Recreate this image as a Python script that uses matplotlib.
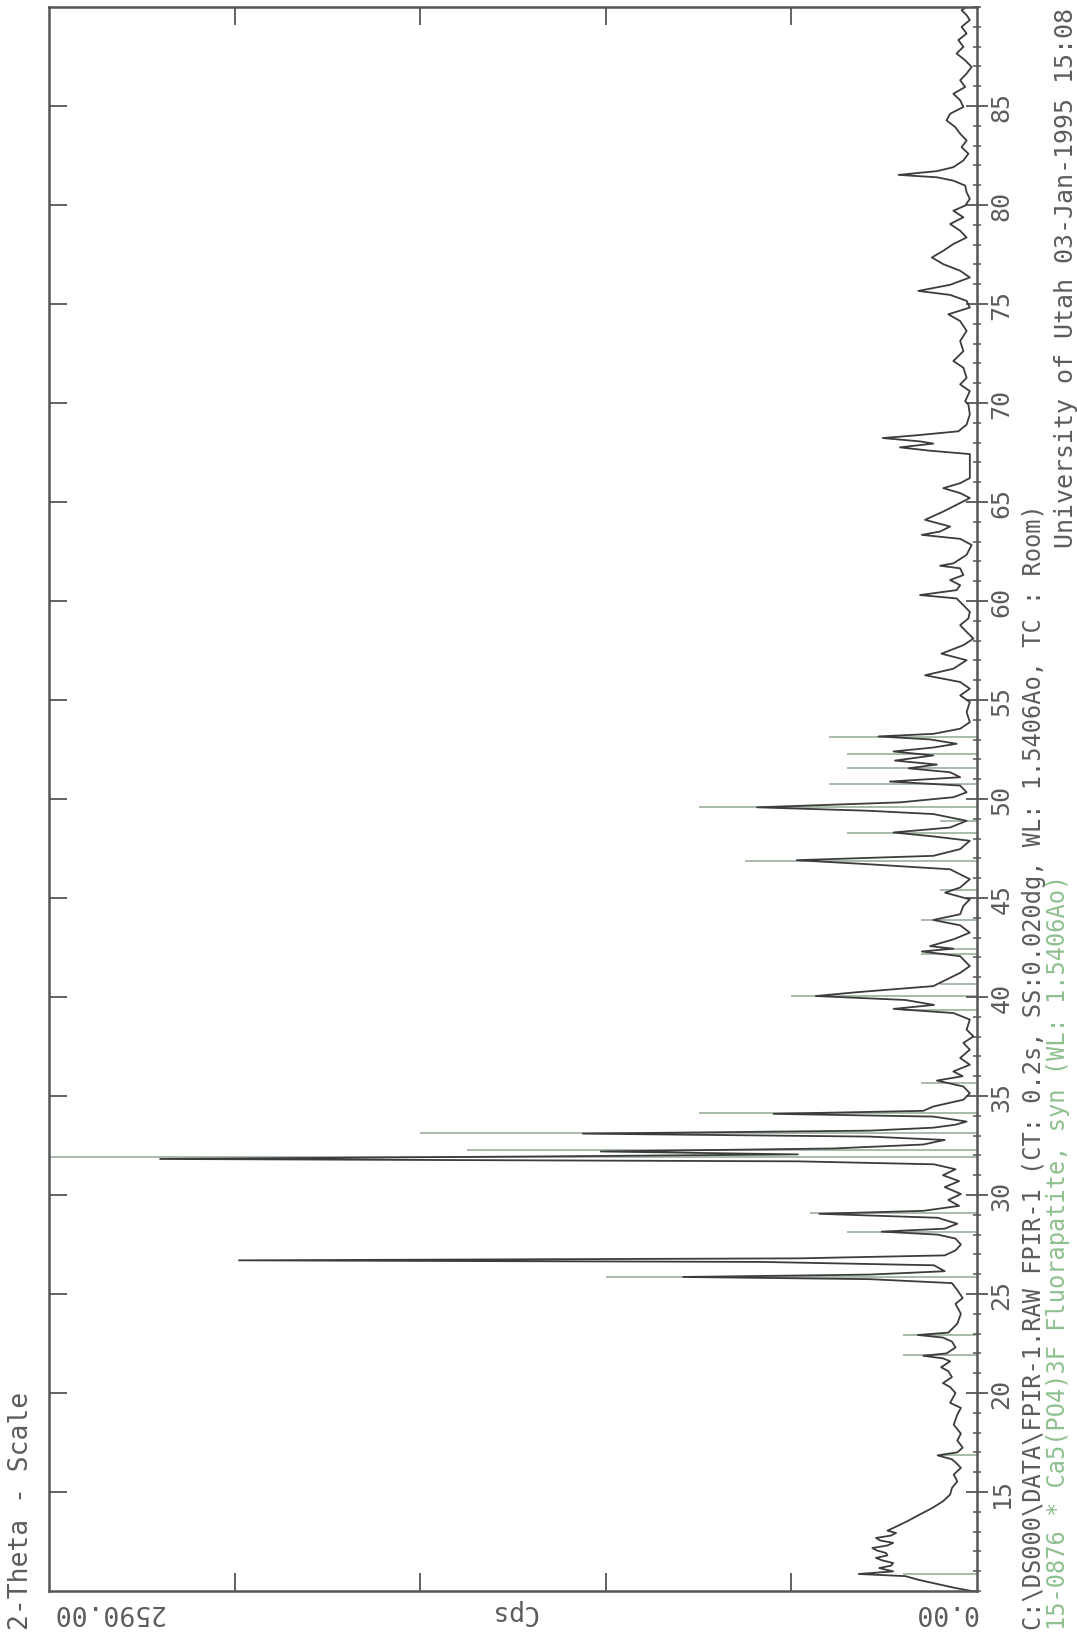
import matplotlib
matplotlib.use("Agg")
import matplotlib.pyplot as plt
from matplotlib.ticker import MultipleLocator

plt.rcParams['font.family'] = ['DejaVu Sans Mono', 'DejaVu Sans']

two_theta = [10.00, 10.15, 10.35, 10.55, 10.75, 10.86, 10.99, 11.16, 11.28, 11.41,
             11.55, 11.67, 11.80, 11.92, 12.05, 12.17, 12.30, 12.43, 12.55, 12.68,
             12.80, 12.93, 13.05, 13.18, 13.52, 13.86, 14.19, 14.53, 14.87, 15.20,
             15.54, 15.88, 16.22, 16.50, 16.65, 16.85, 17.00, 17.24, 17.60, 17.95,
             18.40, 18.90, 19.25, 19.50, 20.00, 20.30, 20.50, 20.80, 21.10, 21.30,
             21.60, 21.75, 21.88, 22.00, 22.30, 22.60, 22.80, 22.93, 23.05, 23.50,
             24.00, 24.50, 24.80, 25.20, 25.55, 25.75, 25.86, 25.98, 26.15, 26.45,
             26.62, 26.70, 26.80, 26.95, 27.20, 27.50, 27.80, 28.00, 28.15, 28.30,
             28.55, 28.85, 29.05, 29.20, 29.45, 29.75, 30.05, 30.40, 30.70, 31.00,
             31.30, 31.55, 31.70, 31.82, 31.95, 32.05, 32.20, 32.35, 32.55, 32.78,
             32.95, 33.10, 33.25, 33.40, 33.55, 33.71, 33.96, 34.10, 34.25, 34.47,
             34.81, 35.14, 35.48, 35.78, 36.00, 36.24, 36.58, 36.92, 37.34, 37.68,
             38.01, 38.35, 38.86, 39.19, 39.40, 39.60, 39.85, 40.05, 40.25, 40.55,
             40.88, 41.22, 41.56, 42.06, 42.30, 42.44, 42.57, 42.91, 43.25, 43.62,
             43.89, 44.18, 44.60, 44.93, 45.27, 45.53, 45.95, 46.45, 46.71, 46.91,
             47.13, 47.47, 47.89, 48.11, 48.31, 48.56, 48.90, 49.24, 49.41, 49.58,
             49.83, 50.09, 50.34, 50.68, 50.88, 51.10, 51.35, 51.55, 51.74, 51.94,
             52.20, 52.40, 52.60, 52.79, 53.01, 53.16, 53.29, 53.55, 53.88, 54.39,
             54.90, 55.23, 55.57, 55.91, 56.25, 56.58, 57.01, 57.34, 57.77, 58.10,
             58.44, 58.78, 59.12, 59.45, 59.79, 60.13, 60.30, 60.55, 60.80, 61.06,
             61.31, 61.65, 61.78, 61.90, 62.33, 62.83, 63.14, 63.34, 63.51, 63.76,
             64.10, 64.52, 64.86, 65.20, 65.45, 65.70, 65.95, 66.21, 66.88, 67.42,
             67.59, 67.76, 67.95, 68.06, 68.23, 68.37, 68.57, 68.91, 69.42, 69.92,
             70.09, 70.60, 70.94, 71.27, 71.78, 72.12, 72.62, 73.13, 73.64, 74.14,
             74.48, 74.82, 75.16, 75.46, 75.66, 75.97, 76.34, 76.68, 77.01, 77.35,
             77.69, 78.03, 78.36, 78.70, 79.04, 79.38, 79.71, 79.97, 80.31, 80.64,
             80.98, 81.23, 81.40, 81.52, 81.71, 81.91, 82.25, 82.59, 82.92, 83.26,
             83.60, 83.94, 84.27, 84.61, 84.95, 85.29, 85.62, 85.96, 86.30, 86.64,
             86.97, 87.31, 87.65, 87.99, 88.33, 88.66, 89.00, 89.34, 89.59, 89.84,
             90.00]
cps = [15, 60, 110, 160, 200, 330, 234, 273, 240, 234,
       265, 282, 250, 254, 280, 292, 250, 234, 270, 282,
       240, 226, 250, 234, 195, 160, 125, 95, 75, 70,
       55, 65, 45, 60, 70, 110, 55, 40, 55, 45,
       65, 55, 45, 75, 60, 75, 95, 70, 80, 100,
       75, 95, 150, 85, 60, 70, 95, 165, 80, 55,
       45, 60, 40, 55, 70, 300, 820, 300, 90, 120,
       600, 2060, 500, 90, 60, 45, 60, 110, 266, 90,
       55, 110, 440, 150, 50, 80, 45, 90, 50, 95,
       60, 120, 500, 2280, 1200, 500, 1050, 400, 150, 90,
       300, 1100, 300, 122, 60, 29, 122, 568, 150, 122,
       38, 20, 38, 112, 40, 66, 20, 47, 20, 38,
       10, 29, 20, 66, 233, 120, 200, 450, 330, 122,
       85, 47, 20, 47, 154, 66, 131, 66, 20, 47,
       122, 47, 38, 20, 89, 47, 20, 75, 308, 503,
       122, 47, 20, 122, 233, 75, 29, 122, 308, 614,
       215, 66, 29, 47, 243, 47, 75, 191, 112, 229,
       122, 233, 122, 57, 131, 275, 122, 47, 20, 29,
       20, 47, 20, 47, 145, 66, 29, 99, 38, 10,
       29, 47, 24, 20, 38, 57, 159, 57, 47, 75,
       38, 47, 103, 66, 29, 15, 47, 154, 103, 75,
       145, 94, 57, 20, 47, 94, 47, 20, 20, 20,
       131, 215, 122, 159, 263, 168, 52, 29, 20, 24,
       33, 20, 47, 29, 38, 66, 38, 47, 29, 47,
       80, 20, 29, 75, 164, 75, 20, 47, 94, 126,
       94, 66, 29, 47, 75, 38, 66, 33, 20, 29,
       33, 66, 112, 219, 112, 66, 38, 24, 43, 29,
       47, 61, 85, 75, 38, 47, 66, 33, 47, 29,
       15, 33, 57, 38, 52, 29, 43, 20, 29, 43,
       30]

# reference card 15-0876 Fluorapatite: line positions and relative intensity (%)
stick_2theta = [10.88, 16.87, 21.90, 22.95, 25.86, 28.15, 29.09, 31.94, 32.27, 33.13,
                34.14, 35.64, 39.33, 40.04, 40.64, 42.19, 42.44, 43.89, 45.38, 46.87,
                48.27, 48.88, 49.58, 50.76, 51.56, 52.29, 53.15]
stick_rel = [8, 4, 8, 8, 40, 14, 18, 100, 55, 60,
             30, 6, 8, 20, 4, 6, 4, 6, 4, 25,
             14, 4, 30, 16, 14, 14, 16]

full_scale = 2590.0
theta_ticks = [15, 20, 25, 30, 35, 40, 45, 50, 55, 60, 65, 70, 75, 80, 85]
cps_ticks = [518, 1036, 1554, 2072]

txt_col = '#5c5c5c'
green = '#8fc08f'
W, H = 1077, 1633

fig = plt.figure(figsize=(W / 100, H / 100), dpi=100)
ax = fig.add_axes([49 / W, 1 - 1592 / H, (977 - 49) / W, (1592 - 8) / H])

stick_cps = [r / 100 * full_scale for r in stick_rel]
ax.hlines(stick_2theta, 0, stick_cps, colors='#a3b5a3', linewidth=1.3, zorder=1)
ax.plot(cps, two_theta, color='#3c3c3c', linewidth=1.3, zorder=2)

ax.set_xlim(full_scale, 0)
ax.set_ylim(10, 90)

for s in ax.spines.values():
    s.set_color('#555555')
    s.set_linewidth(1.8)

# Cps axis (drawn along the bottom and top)
ax.set_xticks(cps_ticks)
ax.tick_params(axis='x', which='major', direction='in', top=True, bottom=True,
               length=13, width=1.3, color='#555555', labelbottom=False)

fs = 18

# 2-theta axis on the right
ax.yaxis.set_ticks_position('right')
ax.set_yticks(theta_ticks)
ax.yaxis.set_minor_locator(MultipleLocator(1))
ax.tick_params(axis='y', which='major', direction='inout', length=16, width=1.3,
               color='#555555', labelright=True, labelsize=fs, labelcolor=txt_col,
               labelrotation=90, pad=1)
ax.tick_params(axis='y', which='minor', direction='inout', length=6, width=1.1,
               color='#555555')
for lab in ax.get_yticklabels():
    lab.set_verticalalignment('center')

# inward ticks on the left spine
sec = ax.secondary_yaxis('left')
sec.set_yticks(theta_ticks)
sec.tick_params(direction='in', length=13, width=1.3, color='#555555', labelleft=False)
sec.spines['left'].set_visible(False)

fig.text(52 / W, 1 - 1612 / H, '2590.00', rotation=180, ha='left', va='center',
         fontsize=fs + 1, color=txt_col)
fig.text(513 / W, 1 - 1612 / H, 'Cps', rotation=180, ha='center', va='center',
         fontsize=fs + 1, color=txt_col)
fig.text(977 / W, 1 - 1612 / H, '0.00', rotation=180, ha='right', va='center',
         fontsize=fs + 1, color=txt_col)
fig.text(21 / W, 1 - 1630 / H, '2-Theta - Scale', rotation=90, ha='center', va='bottom',
         fontsize=fs + 1, color=txt_col)
fig.text(1034 / W, 1 - 1630 / H,
         'C:\\DS000\\DATA\\FPIR-1.RAW FPIR-1 (CT: 0.2s, SS:0.020dg, WL: 1.5406Ao, TC : Room)',
         rotation=90, ha='center', va='bottom', fontsize=fs - 1, color=txt_col)
fig.text(1058 / W, 1 - 1630 / H,
         '15-0876 * Ca5(PO4)3F Fluorapatite, syn (WL: 1.5406Ao)',
         rotation=90, ha='center', va='bottom', fontsize=fs - 1, color=green)
fig.text(1066 / W, 1 - 8 / H, 'University of Utah 03-Jan-1995 15:08',
         rotation=90, ha='center', va='top', fontsize=fs, color=txt_col)

fig.savefig('out.png', dpi=100, facecolor='white')
